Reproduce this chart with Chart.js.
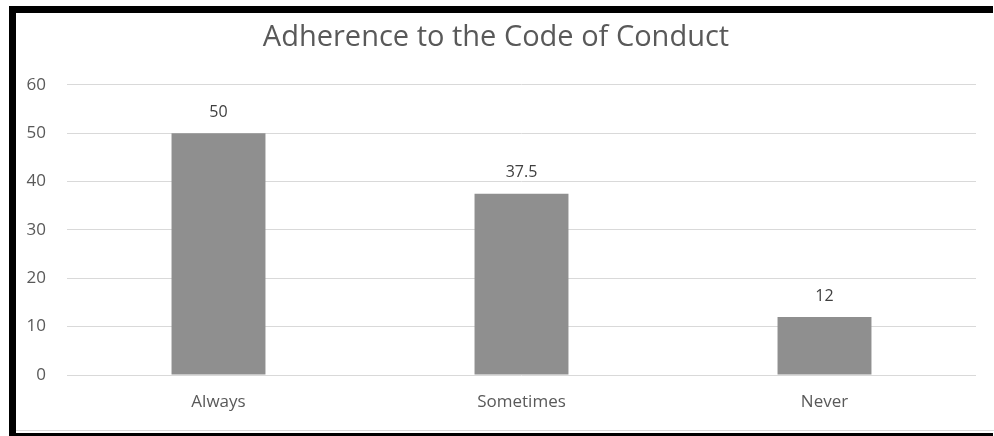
<!DOCTYPE html>
<html>
<head>
<meta charset="utf-8">
<script src="https://cdn.jsdelivr.net/npm/chart.js@4.4.1/dist/chart.umd.min.js"></script>
<style>
  html, body { margin: 0; padding: 0; background: #fff; overflow: hidden; }
  #frame {
    position: absolute; left: 9px; top: 6px; width: 977px; height: 420px;
    border-left: 7px solid #000; border-top: 7px solid #000; border-bottom: 7px solid #000;
  }
  #wrap { position: absolute; left: 16px; top: 13px; width: 978px; height: 420px; }
  #edge { position: absolute; left: 16px; top: 430px; width: 978px; height: 1px; background: #d9d9d9; }
</style>
</head>
<body>
<div id="frame"></div>
<div id="wrap"><canvas id="adherenceChart"></canvas></div>
<div id="edge"></div>
<script>
const categories = ['Always', 'Sometimes', 'Never'];
const percentValues = [50, 37.5, 12];
const yTicks = [0, 10, 20, 30, 40, 50, 60];

const textGrey = '#595959';

// value labels above each bar
const barLabels = {
    id: 'barLabels',
    afterDatasetsDraw(chart) {
        const ctx = chart.ctx;
        const meta = chart.getDatasetMeta(0);
        ctx.save();
        ctx.font = '16px "Open Sans"';
        ctx.fillStyle = '#404040';
        ctx.textAlign = 'center';
        ctx.textBaseline = 'middle';
        meta.data.forEach((bar, i) => {
            ctx.fillText(String(percentValues[i]), bar.x, bar.y - 21);
        });
        ctx.restore();
    }
};

new Chart(document.getElementById('adherenceChart'), {
    type: 'bar',
    data: {
        labels: categories,
        datasets: [{
            data: percentValues,
            backgroundColor: '#8f8f8f',
            barPercentage: 0.31,
            categoryPercentage: 1
        }]
    },
    options: {
        responsive: true,
        maintainAspectRatio: false,
        animation: false,
        layout: { padding: { left: 0, right: 18, top: 0, bottom: 0 } },
        plugins: {
            legend: { display: false },
            tooltip: { enabled: false },
            title: {
                display: true,
                text: 'Adherence to the Code of Conduct',
                color: textGrey,
                font: { family: 'Open Sans', size: 29, weight: 'normal' },
                padding: { top: 7, bottom: 30 }
            }
        },
        scales: {
            x: {
                grid: { display: false, drawTicks: false },
                border: { display: false },
                ticks: { color: textGrey, font: { family: 'Open Sans', size: 17 }, padding: 17 },
                afterFit(scale) { scale.height = 58; }
            },
            y: {
                min: 0,
                max: 60,
                afterBuildTicks(scale) { scale.ticks = yTicks.map(v => ({ value: v })); },
                grid: { color: '#d9d9d9', lineWidth: 1, drawTicks: false },
                border: { display: false },
                ticks: { color: textGrey, font: { family: 'Open Sans', size: 17 }, padding: 21 },
                afterFit(scale) { scale.width = 51; }
            }
        }
    },
    plugins: [barLabels]
});
</script>
</body>
</html>
